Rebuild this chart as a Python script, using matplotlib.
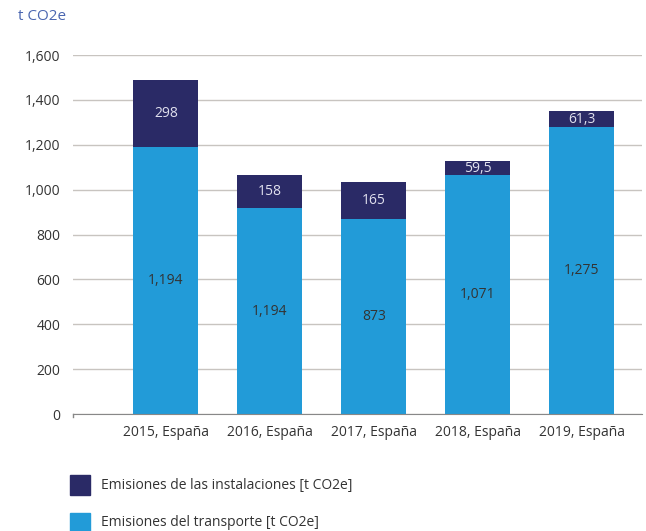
import numpy as np
import matplotlib.pyplot as plt
from matplotlib.patches import Rectangle

plt.rcParams['font.family'] = ['Open Sans', 'DejaVu Sans']

# data
years = ['2015, España', '2016, España', '2017, España', '2018, España', '2019, España']
transporte = [1190, 918, 870, 1065, 1279]
instalaciones = [298, 147, 164, 62, 71]
transporte_labels = ['1,194', '1,194', '873', '1,071', '1,275']
instalaciones_labels = ['298', '158', '165', '59,5', '61,3']
yticks = [0, 200, 400, 600, 800, 1000, 1200, 1400, 1600]

c_dark = '#2a2a66'
c_light = '#229bd8'
c_text = '#333333'

fig = plt.figure(figsize=(6.46, 5.31), dpi=100)
ax = fig.add_axes([0.113, 0.2203, 0.881, 0.6761])

x = np.arange(len(years))
w = 0.625
ax.bar(x, transporte, width=w, color=c_light, zorder=3)
ax.bar(x, instalaciones, width=w, bottom=transporte, color=c_dark, zorder=3)

for i in range(len(x)):
    ax.text(x[i], transporte[i] / 2, transporte_labels[i], ha='center', va='center',
            fontsize=10, color=c_text, zorder=4)
    ax.text(x[i], transporte[i] + instalaciones[i] / 2, instalaciones_labels[i],
            ha='center', va='center', fontsize=10, color='#e0e0ee', zorder=4)

ax.set_xlim(-0.894, 4.58)
ax.set_ylim(0, 1600)
ax.set_yticks(yticks)
ax.set_yticklabels(['{:,}'.format(v) for v in yticks])
ax.set_xticks(x)
ax.set_xticklabels(years)
ax.tick_params(axis='y', length=0, pad=9, labelsize=10, labelcolor=c_text)
ax.tick_params(axis='x', length=0, pad=8, labelsize=10, labelcolor=c_text)
ax.yaxis.grid(True, color='#c8c4c0', linewidth=1, zorder=0)
for s in ['top', 'right', 'left']:
    ax.spines[s].set_visible(False)
ax.spines['bottom'].set_color('#888888')
ax.spines['bottom'].set_zorder(5)
# small tick at left end of baseline
ax.plot([-0.894, -0.894], [0, -15], color='#888888', lw=1, clip_on=False)

fig.text(18 / 646, 1 - 17 / 531, 't CO2e', color='#4a66b0', fontsize=11, va='center', ha='left')

# legend
legend_items = [('Emisiones de las instalaciones [t CO2e]', c_dark, 485),
                ('Emisiones del transporte [t CO2e]', c_light, 523)]
for label, col, yc in legend_items:
    fig.add_artist(Rectangle((70 / 646, 1 - (yc + 10) / 531), 20 / 646, 20 / 531,
                             color=col, transform=fig.transFigure))
    fig.text(101 / 646, 1 - yc / 531, label, color=c_text, fontsize=10, va='center', ha='left')

fig.savefig('out.png', dpi=100)
